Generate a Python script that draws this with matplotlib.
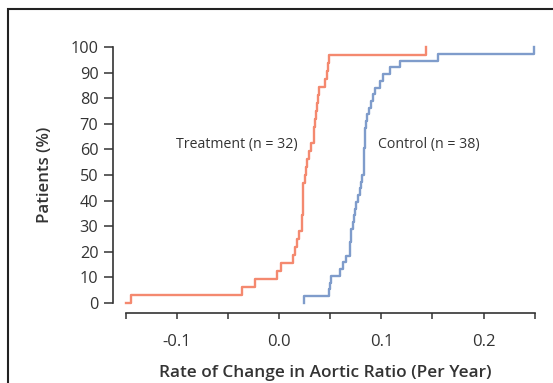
import numpy as np
import matplotlib
matplotlib.use("Agg")
import matplotlib.pyplot as plt
from matplotlib.patches import Rectangle

plt.rcParams['font.family'] = ['Open Sans', 'DejaVu Sans']

# --- data (rate of change at which each patient is reached, sorted) ---
treatment_start = -0.15
treatment_rates = [-0.145, -0.036, -0.024, -0.0023, 0.002, 0.0134, 0.016, 0.0176,
                   0.019, 0.0225, 0.0228, 0.0230, 0.0232, 0.0235, 0.0238, 0.0253,
                   0.0266, 0.0277, 0.0294, 0.0315, 0.0343, 0.0345, 0.0347, 0.0358,
                   0.0370, 0.0379, 0.0392, 0.0454, 0.0467, 0.0477, 0.0487, 0.1434]
control_rates = [0.0248, 0.0493, 0.0496, 0.051, 0.0591, 0.0624, 0.065, 0.0689,
                 0.0692, 0.0703, 0.0706, 0.0722, 0.0736, 0.0738, 0.0755, 0.077,
                 0.0787, 0.080, 0.081, 0.0826, 0.0833, 0.0834, 0.0835, 0.0836,
                 0.0837, 0.0838, 0.0846, 0.0858, 0.0877, 0.090, 0.0918, 0.0942,
                 0.0987, 0.1019, 0.1086, 0.1186, 0.1555, 0.2497]
treatment_label = "Treatment (n = 32)"
control_label = "Control (n = 38)"
x_ticks = [-0.15, -0.10, -0.05, 0.0, 0.05, 0.10, 0.15, 0.20, 0.25]
x_ticklabels = ["", "-0.1", "", "0.0", "", "0.1", "", "0.2", ""]
y_ticks = [0, 10, 20, 30, 40, 50, 60, 70, 80, 90, 100]

orange = "#F4896F"
blue = "#7F9CCB"
dark = "#333333"

fig = plt.figure(figsize=(5.53, 3.83), dpi=100)
# outer frame (top/left visible)
fig.patches.append(Rectangle((8 / 553, -0.05), 1.2, (383 - 9) / 383 + 0.05,
                             transform=fig.transFigure, fill=False,
                             edgecolor="#222222", lw=1.5))

ax = fig.add_axes([0.2038, 0.1836, 0.9736 - 0.2038, 0.8833 - 0.1836])

n_t = len(treatment_rates)
xt = [treatment_start] + treatment_rates
yt = [0] + [100 * (i + 1) / n_t for i in range(n_t)]
ax.plot(xt, yt, drawstyle="steps-post", color=orange, lw=1.7)

n_c = len(control_rates)
xc = [control_rates[0]] + control_rates
yc = [0] + [100 * (i + 1) / n_c for i in range(n_c)]
ax.plot(xc, yc, drawstyle="steps-post", color=blue, lw=1.7)

ax.text(-0.1004, 62.1, treatment_label, fontsize=10.2, color=dark, va="center", ha="left")
ax.text(0.0967, 62.1, control_label, fontsize=10.2, color=dark, va="center", ha="left")

ax.set_xlim(-0.1627, 0.2536)
ax.set_ylim(-3.9, 101)
ax.spines['top'].set_visible(False)
ax.spines['right'].set_visible(False)
ax.spines['left'].set_bounds(0, 100)
ax.spines['bottom'].set_bounds(-0.15, 0.25)
for s in ('left', 'bottom'):
    ax.spines[s].set_color(dark)
    ax.spines[s].set_linewidth(1.2)

ax.set_xticks(x_ticks)
ax.set_xticklabels(x_ticklabels)
ax.set_yticks(y_ticks)
ax.set_yticklabels([str(v) for v in y_ticks])
ax.tick_params(axis='x', length=4.2, width=1.1, color=dark, labelsize=12,
               labelcolor=dark, pad=11)
ax.tick_params(axis='y', length=6.3, width=1.1, color=dark, labelsize=11.7,
               labelcolor=dark, pad=4)

ax.set_xlabel("Rate of Change in Aortic Ratio (Per Year)", fontsize=12.4,
              fontweight="semibold", color=dark, labelpad=11)
ax.set_ylabel("Patients (%)", fontsize=12.2, fontweight="semibold", color=dark)
ax.yaxis.set_label_coords(-0.14, (50 + 3.9) / 104.9)

fig.savefig("out.png", dpi=100)
